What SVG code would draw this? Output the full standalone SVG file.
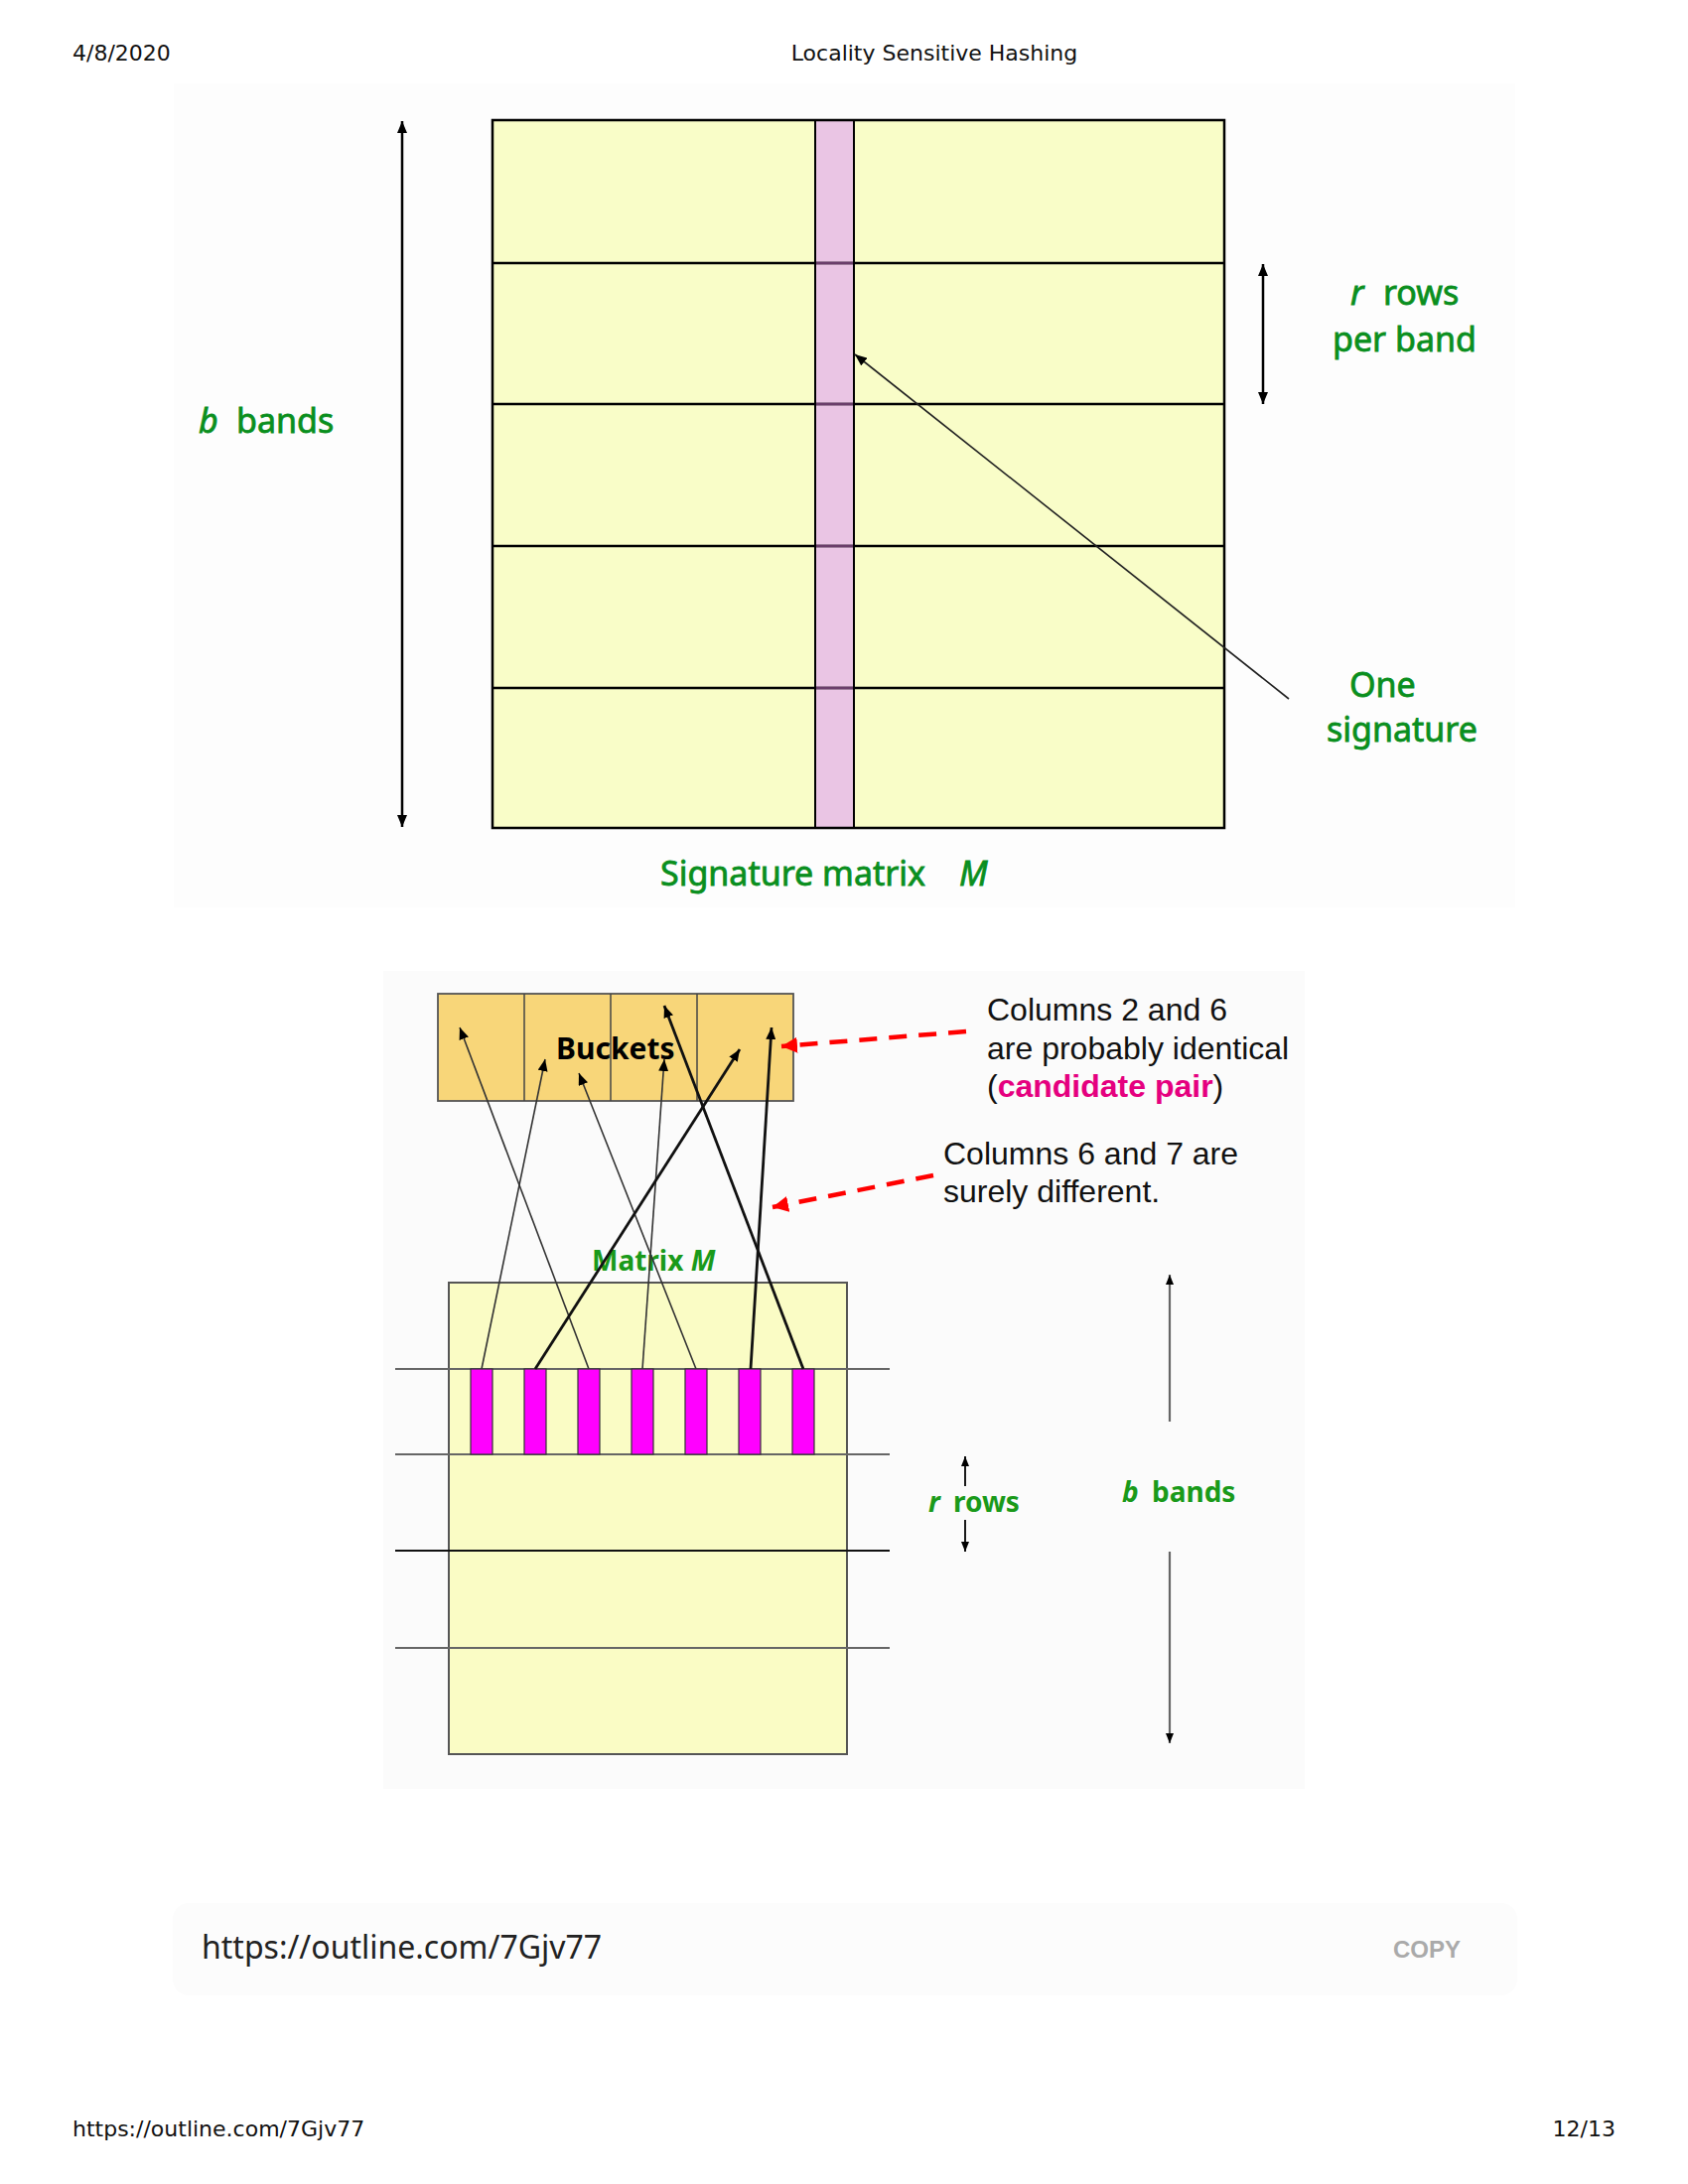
<svg xmlns="http://www.w3.org/2000/svg" width="1700" height="2200" viewBox="0 0 1700 2200">
<style>
.hdr{font-family:"DejaVu Sans",sans-serif;font-size:22px;fill:#111}
.g1{font-family:"Noto Sans",sans-serif;font-size:34px;fill:#0a8f1e;stroke:#0a8f1e;stroke-width:0.8}
.g2{font-family:"Noto Sans",sans-serif;font-size:28px;font-weight:bold;fill:#1a9a1a}
.note{font-family:"Liberation Sans",Arial,sans-serif;font-size:32px;fill:#111}
.band{stroke:#000;stroke-width:2.5}
.hline{stroke:#666;stroke-width:2}
.thin{stroke:#333;stroke-width:1.6;fill:none}
.thick{stroke:#111;stroke-width:2.8;fill:none}
.col{fill:#ff00ff;stroke:#333;stroke-width:1.2}
.red{stroke:#ff0000;stroke-width:4.5;stroke-dasharray:18 12;fill:none}
</style>
<defs>
<marker id="ah" viewBox="0 0 12 10" refX="12" refY="5" markerWidth="12" markerHeight="10" markerUnits="userSpaceOnUse" orient="auto-start-reverse"><path d="M0,0 L12,5 L0,10 z" fill="#000"/></marker>
<marker id="ahs" viewBox="0 0 10 8" refX="10" refY="4" markerWidth="10" markerHeight="8" markerUnits="userSpaceOnUse" orient="auto-start-reverse"><path d="M0,0 L10,4 L0,8 z" fill="#000"/></marker>
<marker id="ahr" viewBox="0 0 14 14" refX="14" refY="7" markerWidth="16" markerHeight="16" markerUnits="userSpaceOnUse" orient="auto"><path d="M0,0 L14,7 L0,14 z" fill="#ff0000"/></marker>
</defs>
<rect width="1700" height="2200" fill="#ffffff"/>

<g id="header">
<text class="hdr" x="73" y="61">4/8/2020</text>
<text class="hdr" x="941" y="61" text-anchor="middle">Locality Sensitive Hashing</text>
</g>

<rect id="panel-top" x="175" y="84" width="1351" height="830" fill="#fdfdfd"/>
<rect id="panel-bottom" x="386" y="978" width="928" height="824" fill="#fbfbfb"/>

<g id="signature-matrix">
<rect x="496" y="121" width="737" height="713" fill="#f9fdc8"/>
<rect x="821" y="121" width="39" height="713" fill="#eac5e4"/>
<line class="band" x1="496" y1="265" x2="1233" y2="265"/>
<line class="band" x1="496" y1="407" x2="1233" y2="407"/>
<line class="band" x1="496" y1="550" x2="1233" y2="550"/>
<line class="band" x1="496" y1="693" x2="1233" y2="693"/>
<g stroke="#6b3f6b" stroke-width="2.5">
<line x1="822" y1="265" x2="859" y2="265"/>
<line x1="822" y1="407" x2="859" y2="407"/>
<line x1="822" y1="550" x2="859" y2="550"/>
<line x1="822" y1="693" x2="859" y2="693"/>
</g>
<line x1="821" y1="121" x2="821" y2="834" stroke="#000" stroke-width="2"/>
<line x1="860" y1="121" x2="860" y2="834" stroke="#000" stroke-width="2"/>
<rect x="496" y="121" width="737" height="713" fill="none" stroke="#000" stroke-width="2.5"/>
</g>

<g id="top-labels">
<text class="g1" x="200" y="436"><tspan font-style="italic">b</tspan><tspan x="238">bands</tspan></text>
<text class="g1" x="1360" y="307"><tspan font-style="italic">r</tspan><tspan x="1393">rows</tspan></text>
<text class="g1" x="1342" y="354">per band</text>
<text class="g1" x="1359" y="702">One</text>
<text class="g1" x="1336" y="747">signature</text>
<text class="g1" x="665" y="892">Signature matrix<tspan x="966" font-style="italic">M</tspan></text>
</g>

<g id="buckets">
<rect x="441" y="1001" width="358" height="108" fill="#f8d679" stroke="#555" stroke-width="1.8"/>
<line x1="528" y1="1001" x2="528" y2="1109" stroke="#444" stroke-width="1.5"/>
<line x1="615" y1="1001" x2="615" y2="1109" stroke="#444" stroke-width="1.5"/>
<line x1="702" y1="1001" x2="702" y2="1109" stroke="#444" stroke-width="1.5"/>
<text x="560" y="1067" font-family="'Noto Sans',sans-serif" font-size="30" font-weight="bold" fill="#000">Buckets</text>
</g>

<g id="matrix-m">
<rect x="452" y="1292" width="401" height="475" fill="#fafcc5" stroke="#555" stroke-width="2"/>
<line class="hline" x1="398" y1="1379" x2="896" y2="1379"/>
<line class="hline" x1="398" y1="1465" x2="896" y2="1465"/>
<line x1="398" y1="1562" x2="896" y2="1562" stroke="#111" stroke-width="1.8"/>
<line class="hline" x1="398" y1="1660" x2="896" y2="1660"/>
<text class="g2" x="596" y="1280">Matrix <tspan font-style="italic">M</tspan></text>
</g>

<g id="columns">
<rect class="col" x="474" y="1379" width="22" height="86"/>
<rect class="col" x="528" y="1379" width="22" height="86"/>
<rect class="col" x="582" y="1379" width="22" height="86"/>
<rect class="col" x="636" y="1379" width="22" height="86"/>
<rect class="col" x="690" y="1379" width="22" height="86"/>
<rect class="col" x="744" y="1379" width="22" height="86"/>
<rect class="col" x="798" y="1379" width="22" height="86"/>
</g>

<g id="notes">
<text class="note" x="994" y="1028">Columns 2 and 6</text>
<text class="note" x="994" y="1067">are probably identical</text>
<text class="note" x="994" y="1105">(<tspan font-weight="bold" fill="#e5007f">candidate pair</tspan>)</text>
<text class="note" x="950" y="1173">Columns 6 and 7 are</text>
<text class="note" x="950" y="1211">surely different.</text>
</g>

<g id="bottom-labels">
<text class="g2" x="935" y="1523"><tspan font-style="italic">r</tspan><tspan x="960">rows</tspan></text>
<text class="g2" x="1130" y="1513"><tspan font-style="italic">b</tspan><tspan x="1160">bands</tspan></text>
</g>

<g id="connectors">
<line x1="405" y1="833" x2="405" y2="122" stroke="#000" stroke-width="2.5" marker-start="url(#ah)" marker-end="url(#ah)"/>
<line x1="1272" y1="407" x2="1272" y2="266" stroke="#000" stroke-width="2.5" marker-start="url(#ah)" marker-end="url(#ah)"/>
<line x1="1298" y1="704" x2="861" y2="357" stroke="#222" stroke-width="1.6" marker-end="url(#ah)"/>

<line class="thin" x1="593" y1="1379" x2="463" y2="1035" marker-end="url(#ah)"/>
<line class="thin" x1="485" y1="1379" x2="549" y2="1067" marker-end="url(#ah)"/>
<line class="thin" x1="701" y1="1379" x2="583" y2="1081" marker-end="url(#ah)"/>
<line class="thin" x1="647" y1="1379" x2="669" y2="1067" marker-end="url(#ah)"/>
<line class="thick" x1="809" y1="1379" x2="669" y2="1013" marker-end="url(#ah)"/>
<line class="thick" x1="539" y1="1379" x2="745" y2="1057" marker-end="url(#ah)"/>
<line class="thick" x1="756" y1="1379" x2="777" y2="1035" marker-end="url(#ah)"/>

<line class="red" x1="973" y1="1039" x2="787" y2="1054" marker-end="url(#ahr)"/>
<line class="red" x1="940" y1="1184" x2="778" y2="1216" marker-end="url(#ahr)"/>

<line x1="972" y1="1497" x2="972" y2="1467" stroke="#000" stroke-width="1.8" marker-end="url(#ahs)"/>
<line x1="972" y1="1531" x2="972" y2="1563" stroke="#000" stroke-width="1.8" marker-end="url(#ahs)"/>
<line x1="1178" y1="1432" x2="1178" y2="1284" stroke="#666" stroke-width="2.2" marker-end="url(#ahs)"/>
<line x1="1178" y1="1563" x2="1178" y2="1756" stroke="#666" stroke-width="2.2" marker-end="url(#ahs)"/>
</g>

<g id="url-box">
<rect x="174" y="1917" width="1354" height="93" rx="16" fill="#fcfcfc"/>
<text x="203" y="1973" font-family="'Noto Sans',sans-serif" font-size="32" fill="#222">https://outline.com/7Gjv77</text>
<text x="1403" y="1972" font-family="'Liberation Sans',Arial,sans-serif" font-size="24" font-weight="bold" fill="#aaaaaa">COPY</text>
</g>

<g id="footer">
<text class="hdr" x="73" y="2152">https://outline.com/7Gjv77</text>
<text class="hdr" x="1627" y="2152" text-anchor="end">12/13</text>
</g>
</svg>
